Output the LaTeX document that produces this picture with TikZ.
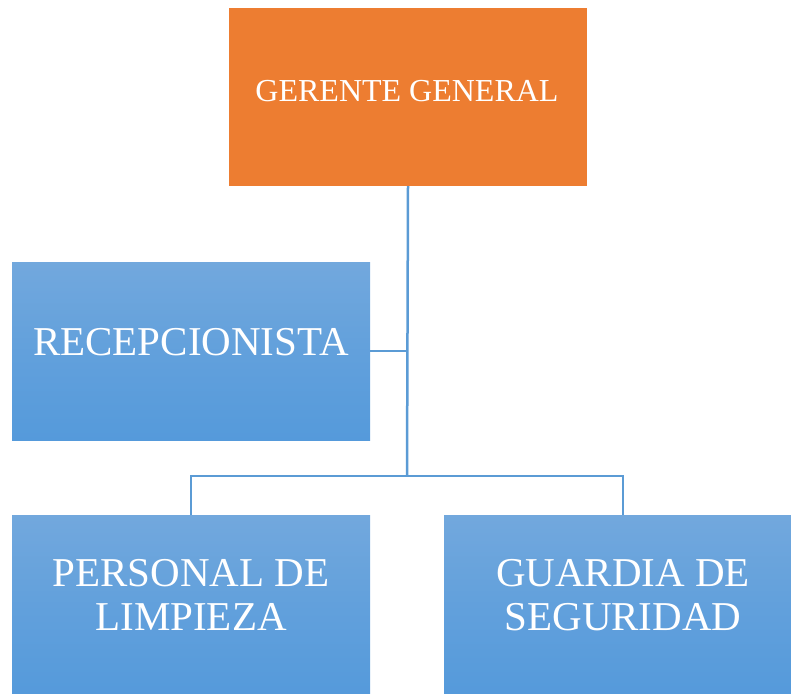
\documentclass[tikz,border=0pt]{standalone}
\usepackage{fontspec}
\setmainfont{Liberation Serif}
\definecolor{orangebox}{HTML}{ED7D31}
\definecolor{linkblue}{HTML}{5B9BD5}
\definecolor{bluetop}{HTML}{72A8DD}
\definecolor{bluebot}{HTML}{559ADB}
\tikzset{
  orgbox/.style={rectangle, inner sep=0pt, outer sep=0pt, minimum width=358pt, minimum height=178pt, anchor=north west},
  topbox/.style={orgbox, fill=orangebox},
  bluebox/.style={orgbox, top color=bluetop, bottom color=bluebot, middle color=bluebot!55!bluetop},
  boxtext/.style={text=white, align=center, anchor=base, inner sep=0pt},
  bigtext/.style={boxtext, font=\fontsize{41}{44}\selectfont},
  link/.style={draw=linkblue, line width=2.5pt}
}
\begin{document}
\begin{tikzpicture}[x=1pt, y=-1pt]
\useasboundingbox (0,0) rectangle (791,693);
\clip (0,0) rectangle (791,693);
\node[topbox] (gg) at (229,8) {};
\node[bluebox] (rec) at (12,262) {};
\node[bluebox] (pl) at (12,515) {};
\node[bluebox] (gs) at (444,515) {};
\node[boxtext, font=\fontsize{32}{38}\selectfont] (ggt) at (407,101) {GERENTE GENERAL};
\node[bigtext] (rect) at (191,355) {RECEPCIONISTA};
\node[bigtext] (plt) at (191,630) {PERSONAL DE\\LIMPIEZA};
\node[bigtext] (gst) at (623,630) {GUARDIA DE\\SEGURIDAD};
\coordinate (j1) at (407,351);
\coordinate (j2) at (407,476);
\draw[link] (gg.south) -- (j2);
\draw[link] (rec.east) -- (rec.east -| j1);
\draw[link] (j2) -| (pl.north);
\draw[link] (j2) -| (gs.north);
\end{tikzpicture}
\end{document}
